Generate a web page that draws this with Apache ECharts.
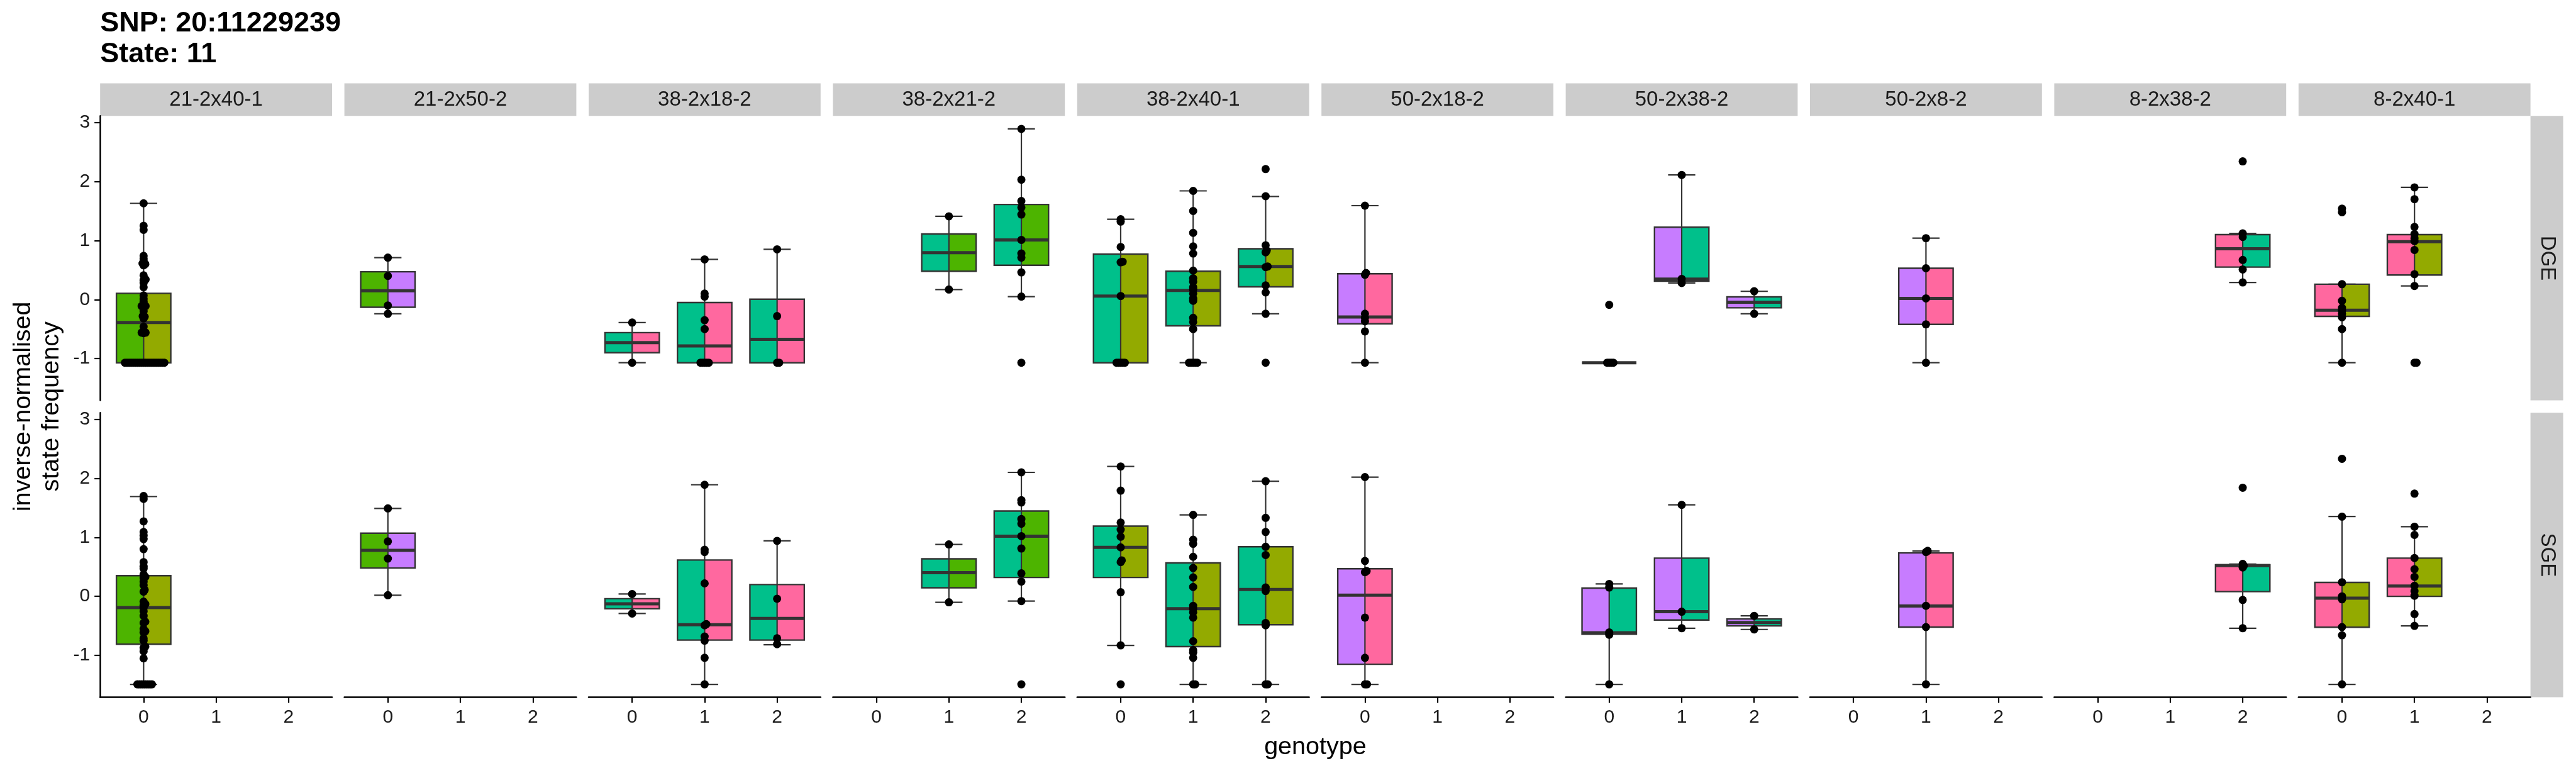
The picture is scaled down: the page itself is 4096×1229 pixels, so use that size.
<!DOCTYPE html>
<html><head><meta charset="utf-8">
<script src="https://cdn.jsdelivr.net/npm/echarts@6/dist/echarts.min.js"></script>
<style>html,body{margin:0;padding:0;background:#fff}#c{width:4096px;height:1229px}</style>
</head><body><div id="c"></div>
<script>
// ---------------- DATA ----------------
const titleLines = ['SNP: 20:11229239', 'State: 11'];
const crosses = ['21-2x40-1','21-2x50-2','38-2x18-2','38-2x21-2','38-2x40-1','50-2x18-2','50-2x38-2','50-2x8-2','8-2x38-2','8-2x40-1'];
const rowLabels = ['DGE','SGE'];
const genotypeTicks = [0,1,2];
const yTicks = [-1,0,1,2,3];
const xTitle = 'genotype';
const yTitle = 'inverse-normalised\nstate frequency';
const strainColors = {'21-2':'#4DB400','40-1':'#93AA00','50-2':'#C77CFF','38-2':'#00C08B','18-2':'#FF689F','8-2':'#FF689F'};

// [cross, row, genotype, lowerWhisker, q1, median, q3, upperWhisker]
const boxStats = [
  [0,0,0,-1.07,-1.07,-0.39,0.105,1.63],
  [1,0,0,-0.24,-0.13,0.15,0.47,0.71],
  [2,0,0,-1.07,-0.90,-0.73,-0.56,-0.39],
  [2,0,1,-1.07,-1.07,-0.785,-0.05,0.68],
  [2,0,2,-1.07,-1.07,-0.675,0.005,0.85],
  [3,0,1,0.17,0.48,0.795,1.11,1.41],
  [3,0,2,0.05,0.58,1.01,1.61,2.89],
  [4,0,0,-1.07,-1.07,0.06,0.77,1.36],
  [4,0,1,-1.07,-0.445,0.155,0.48,1.84],
  [4,0,2,-0.24,0.215,0.56,0.86,1.745],
  [5,0,0,-1.07,-0.41,-0.295,0.437,1.59],
  [6,0,0,-1.07,-1.07,-1.07,-1.07,-1.07],
  [6,0,1,0.28,0.31,0.345,1.225,2.11],
  [6,0,2,-0.24,-0.14,-0.045,0.045,0.14],
  [7,0,1,-1.07,-0.42,0.02,0.53,1.04],
  [8,0,2,0.29,0.55,0.86,1.10,1.12],
  [9,0,0,-1.07,-0.285,-0.18,0.26,0.26],
  [9,0,1,0.23,0.415,0.98,1.10,1.90],
  [0,1,0,-1.49,-0.81,-0.19,0.35,1.69],
  [1,1,0,0.02,0.48,0.78,1.07,1.49],
  [2,1,0,-0.29,-0.21,-0.125,-0.04,0.04],
  [2,1,1,-1.49,-0.74,-0.48,0.615,1.89],
  [2,1,2,-0.82,-0.74,-0.375,0.20,0.94],
  [3,1,1,-0.10,0.145,0.40,0.635,0.88],
  [3,1,2,-0.08,0.32,1.02,1.445,2.10],
  [4,1,0,-0.83,0.32,0.83,1.19,2.20],
  [4,1,1,-1.49,-0.85,-0.21,0.567,1.38],
  [4,1,2,-1.49,-0.48,0.116,0.84,1.95],
  [5,1,0,-1.49,-1.15,0.02,0.467,2.02],
  [6,1,0,-1.49,-0.64,-0.615,0.14,0.21],
  [6,1,1,-0.54,-0.40,-0.26,0.647,1.55],
  [6,1,2,-0.56,-0.50,-0.443,-0.383,-0.33],
  [7,1,1,-1.49,-0.52,-0.163,0.735,0.767],
  [8,1,2,-0.54,0.08,0.52,0.535,0.547],
  [9,1,0,-1.49,-0.523,-0.03,0.236,1.353],
  [9,1,1,-0.50,0.0,0.176,0.647,1.18]
];

// points per cross, per genotype [g0, g1, g2]
const dgePoints = [
  [[1.63,1.25,1.18,0.74,0.69,0.65,0.61,0.60,0.58,0.41,0.34,0.33,0.28,0.21,0.07,0.01,-0.04,-0.11,-0.11,-0.12,-0.20,-0.28,-0.29,-0.32,-0.46,-0.56,-0.56,-0.57,
    -1.07,-1.07,-1.07,-1.07,-1.07,-1.07,-1.07,-1.07,-1.07,-1.07,-1.07,-1.07,-1.07,-1.07,-1.07,-1.07,-1.07,-1.07,-1.07,-1.07],[],[]],
  [[0.71,0.40,-0.10,-0.24],[],[]],
  [[-0.39,-1.07],[0.68,0.10,0.05,-0.35,-0.50,-1.07,-1.07,-1.07,-1.07,-1.07],[0.85,-0.28,-1.07,-1.07]],
  [[],[1.41,0.17],[2.89,2.03,1.67,1.56,1.44,1.01,0.78,0.71,0.46,0.05,-1.07]],
  [[1.36,1.32,0.89,0.64,0.63,0.06,-1.07,-1.07,-1.07,-1.07,-1.07],
   [1.84,1.50,1.13,0.90,0.78,0.49,0.36,0.30,0.21,0.17,0.10,0.02,-0.02,-0.31,-0.38,-0.50,-1.07,-1.07,-1.07,-1.07,-1.07],
   [2.21,1.75,0.92,0.83,0.80,0.56,0.55,0.24,0.12,-0.24,-1.07]],
  [[1.59,0.45,0.42,-0.24,-0.31,-0.37,-0.54,-1.07],[],[]],
  [[-0.09,-1.07,-1.07,-1.07,-1.07],[2.11,0.35,0.28],[0.14,-0.24]],
  [[],[1.04,0.53,0.02,-0.42,-1.07],[]],
  [[],[],[2.34,1.12,1.06,0.67,0.51,0.29]],
  [[1.54,1.48,0.26,-0.02,-0.14,-0.19,-0.24,-0.30,-0.50,-1.07],[1.90,1.70,1.23,1.11,1.04,0.99,0.84,0.43,0.23,-1.07,-1.07],[]]
];
const sgePoints = [
  [[1.70,1.65,1.27,1.09,1.03,0.97,0.80,0.58,0.51,0.47,0.37,0.33,0.31,0.25,0.19,0.11,0.08,-0.09,-0.13,-0.15,-0.19,-0.25,-0.33,-0.43,-0.45,-0.55,-0.59,-0.61,-0.71,-0.75,-0.85,-0.87,-0.93,-1.05,
    -1.49,-1.49,-1.49,-1.49,-1.49,-1.49,-1.49,-1.49],[],[]],
  [[1.49,0.93,0.64,0.02],[],[]],
  [[0.04,-0.29],[1.89,0.79,0.75,0.22,-0.47,-0.49,-0.68,-0.75,-1.04,-1.49],[0.94,-0.04,-0.71,-0.81]],
  [[],[0.88,-0.10],[2.10,1.63,1.59,1.31,1.23,1.02,0.81,0.39,0.25,-0.08,-1.49]],
  [[2.20,1.79,1.25,1.13,1.01,0.83,0.61,0.58,0.07,-0.83,-1.49],
   [1.38,0.96,0.89,0.67,0.48,0.32,0.16,-0.16,-0.21,-0.27,-0.36,-0.76,-0.91,-0.95,-1.04,-1.49,-1.49],
   [1.95,1.33,1.09,0.84,0.70,0.15,0.09,-0.45,-0.49,-1.49,-1.49]],
  [[2.02,0.60,0.43,0.41,-0.36,-1.04,-1.49,-1.49],[],[]],
  [[0.21,0.15,-0.61,-0.65,-1.49],[1.55,-0.26,-0.54],[-0.33,-0.56]],
  [[],[0.77,0.75,-0.16,-0.52,-1.49],[]],
  [[],[],[1.84,0.55,0.52,0.49,-0.06,-0.54]],
  [[2.33,1.35,0.24,0.00,-0.05,-0.52,-0.66,-1.49],[1.74,1.18,1.04,0.65,0.46,0.33,0.18,0.09,0.01,-0.30,-0.50],[]]
];

// ---------------- LAYOUT / STYLE ----------------
const FONT = '"Liberation Sans", Arial, Helvetica, sans-serif';
const PANEL_LEFT = 159.2, PANEL_W = 368.8, PANEL_STEP = 388.4;
const ROW_TOP = [184.3, 656.2], PANEL_H = 452.3;
const STRIP_TOP = 132.6, STRIP_H = 51.7;
const RIGHT_STRIP_X = 4023.6, RIGHT_STRIP_W = 52;
const X_MIN = -0.6, X_MAX = 2.6, Y_MIN = -1.708, Y_MAX = 3.110;
const BOX_W = 0.75, CAP_W = 0.375;
const LINE = '#333333';
const DOT = 13, SWARM_GAP = 3.3;
const STRIP_FILL = '#CCCCCC', TEXT = '#1A1A1A';

const pxPerX = PANEL_W / (X_MAX - X_MIN);
const pxPerY = PANEL_H / (Y_MAX - Y_MIN);

// beeswarm layout: offsets (in x data units) so that dots don't sit closer than SWARM_GAP px
function swarm(vals) {
  const order = vals.map((v, i) => i).sort((a, b) => vals[a] - vals[b]);
  const placed = [];
  const out = new Array(vals.length).fill(0);
  const s2 = SWARM_GAP * SWARM_GAP;
  order.forEach(i => {
    const y = vals[i] * pxPerY;
    const cands = [0];
    placed.forEach(p => {
      const dy = y - p.y;
      if (Math.abs(dy) < SWARM_GAP) {
        const dx = Math.sqrt(s2 - dy * dy);
        cands.push(p.x + dx, p.x - dx);
      }
    });
    cands.sort((a, b) => (Math.abs(a) - Math.abs(b)) || (b - a));
    let chosen = 0;
    for (const c of cands) {
      if (placed.every(p => (c - p.x) * (c - p.x) + (y - p.y) * (y - p.y) >= s2 - 1e-6)) { chosen = c; break; }
    }
    placed.push({x: chosen, y});
    out[i] = chosen / pxPerX;
  });
  return out;
}

function makeBoxRender(c1, c2) {
  return function (params, api) {
    const g = api.value(0);
    const lo = api.coord([g, api.value(1)]);
    const q1 = api.coord([g, api.value(2)]);
    const md = api.coord([g, api.value(3)]);
    const q3 = api.coord([g, api.value(4)]);
    const hi = api.coord([g, api.value(5)]);
    const cx = lo[0];
    const hw = api.size([BOX_W / 2, 0])[0];
    const cw = api.size([CAP_W / 2, 0])[0];
    const st = {stroke: LINE, lineWidth: 2.2, fill: null};
    const h = q1[1] - q3[1];
    return {type: 'group', children: [
      {type: 'line', shape: {x1: cx, y1: q3[1], x2: cx, y2: hi[1]}, style: st},
      {type: 'line', shape: {x1: cx, y1: q1[1], x2: cx, y2: lo[1]}, style: st},
      {type: 'line', shape: {x1: cx - cw, y1: hi[1], x2: cx + cw, y2: hi[1]}, style: st},
      {type: 'line', shape: {x1: cx - cw, y1: lo[1], x2: cx + cw, y2: lo[1]}, style: st},
      {type: 'rect', shape: {x: cx - hw, y: q3[1], width: hw, height: h}, style: {fill: c1}},
      {type: 'rect', shape: {x: cx, y: q3[1], width: hw, height: h}, style: {fill: c2}},
      {type: 'line', shape: {x1: cx, y1: q3[1], x2: cx, y2: q1[1]}, style: st},
      {type: 'rect', shape: {x: cx - hw, y: q3[1], width: 2 * hw, height: h}, style: {stroke: LINE, lineWidth: 2.4, fill: null}},
      {type: 'line', shape: {x1: cx - hw, y1: md[1], x2: cx + hw, y2: md[1]}, style: {stroke: LINE, lineWidth: 5}}
    ]};
  };
}

const grids = [], xAxes = [], yAxes = [], series = [], graphics = [];
rowLabels.forEach((rowName, r) => {
  crosses.forEach((cross, c) => {
    const gi = grids.length;
    grids.push({left: PANEL_LEFT + c * PANEL_STEP, top: ROW_TOP[r], width: PANEL_W, height: PANEL_H, containLabel: false, outerBoundsMode: 'none'});
    const showX = r === 1, showY = c === 0;
    xAxes.push({type: 'value', gridIndex: gi, min: X_MIN, max: X_MAX,
      axisLine: {show: showX, onZero: false, lineStyle: {color: '#000', width: 2.5}},
      axisTick: {show: showX, length: 9, customValues: genotypeTicks, lineStyle: {color: '#000', width: 2.2}},
      axisLabel: {show: showX, customValues: genotypeTicks, margin: 17, fontSize: 30, color: TEXT, fontFamily: FONT, formatter: v => String(v)},
      splitLine: {show: false}});
    yAxes.push({type: 'value', gridIndex: gi, min: Y_MIN, max: Y_MAX,
      axisLine: {show: showY, onZero: false, lineStyle: {color: '#000', width: 2.5}},
      axisTick: {show: showY, length: 9, customValues: yTicks, lineStyle: {color: '#000', width: 2.2}},
      axisLabel: {show: showY, customValues: yTicks, margin: 16, fontSize: 30, color: TEXT, fontFamily: FONT, formatter: v => String(v)},
      splitLine: {show: false}});
    const parts = cross.split('x');
    const boxes = boxStats.filter(b => b[0] === c && b[1] === r).map(b => b.slice(2));
    if (boxes.length) series.push({type: 'custom', xAxisIndex: gi, yAxisIndex: gi, clip: false, z: 2,
      renderItem: makeBoxRender(strainColors[parts[0]], strainColors[parts[1]]),
      encode: {x: 0, y: [1, 2, 3, 4, 5]}, data: boxes, silent: true});
    const pts = (r === 0 ? dgePoints : sgePoints)[c];
    const data = [];
    pts.forEach((vals, g) => {
      const offs = swarm(vals);
      vals.forEach((v, i) => data.push([genotypeTicks[g] + offs[i], v]));
    });
    if (data.length) series.push({type: 'scatter', xAxisIndex: gi, yAxisIndex: gi, z: 3, silent: true,
      symbol: 'circle', symbolSize: DOT, itemStyle: {color: '#000', opacity: 1, borderWidth: 0}, data});
  });
});

// strips
crosses.forEach((cross, c) => {
  const x = PANEL_LEFT + c * PANEL_STEP;
  graphics.push({type: 'rect', shape: {x, y: STRIP_TOP, width: PANEL_W, height: STRIP_H}, style: {fill: STRIP_FILL}, silent: true});
  graphics.push({type: 'text', x: x + PANEL_W / 2, y: STRIP_TOP + STRIP_H / 2, silent: true,
    style: {text: cross, fontSize: 33, fontFamily: FONT, fill: TEXT, align: 'center', verticalAlign: 'middle'}});
});
rowLabels.forEach((lab, r) => {
  graphics.push({type: 'rect', shape: {x: RIGHT_STRIP_X, y: ROW_TOP[r], width: RIGHT_STRIP_W, height: PANEL_H}, style: {fill: STRIP_FILL}, silent: true});
  graphics.push({type: 'text', x: RIGHT_STRIP_X + RIGHT_STRIP_W / 2, y: ROW_TOP[r] + PANEL_H / 2, rotation: -Math.PI / 2, silent: true,
    style: {text: lab, fontSize: 33, fontFamily: FONT, fill: TEXT, align: 'center', verticalAlign: 'middle'}});
});
// title
graphics.push({type: 'text', x: 159.2, y: 13.5, silent: true,
  style: {text: titleLines.join('\n'), fontSize: 45, fontWeight: 'bold', fontFamily: FONT, fill: '#000', lineHeight: 49, align: 'left', verticalAlign: 'top'}});
// axis titles
graphics.push({type: 'text', x: (PANEL_LEFT + RIGHT_STRIP_X) / 2, y: 1188, silent: true,
  style: {text: xTitle, fontSize: 39.5, fontFamily: FONT, fill: '#000', align: 'center', verticalAlign: 'middle'}});
graphics.push({type: 'text', x: 60, y: (ROW_TOP[0] + ROW_TOP[1] + PANEL_H) / 2, rotation: Math.PI / 2, silent: true,
  style: {text: yTitle, fontSize: 39.5, fontFamily: FONT, fill: '#000', align: 'center', verticalAlign: 'middle', lineHeight: 45}});

const chart = echarts.init(document.getElementById('c'), null, {renderer: 'canvas', width: 4096, height: 1229});
chart.setOption({
  animation: false,
  backgroundColor: '#ffffff',
  grid: grids, xAxis: xAxes, yAxis: yAxes, series,
  graphic: {elements: graphics}
});
</script></body></html>
